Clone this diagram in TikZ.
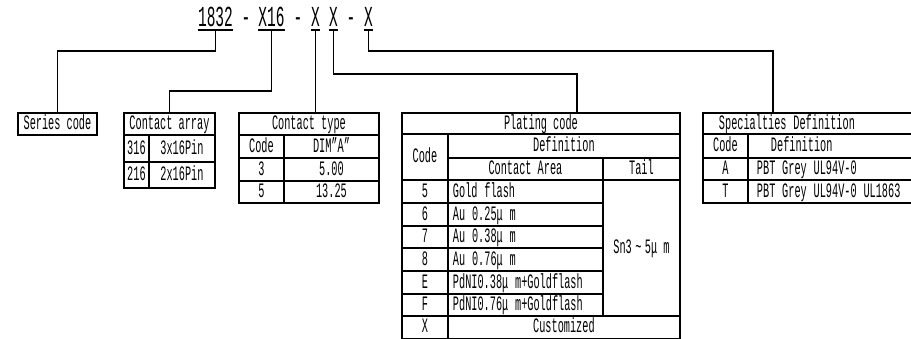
\documentclass[tikz,border=0pt]{standalone}
\usepackage{fontspec}
\setmainfont{Liberation Mono}[FakeStretch=0.5]
\newfontfamily\ttlfont{Liberation Mono}[FakeStretch=0.5]
\usepackage{tikz}
\usetikzlibrary{calc}

\tikzset{
  cell/.style={draw, line width=1.9pt, anchor=north west, inner sep=0pt, text height=11.5pt, text depth=0pt, font=\fontsize{20.5}{20.5}\selectfont},
  lcell/.style={cell, align=left},
  ttl/.style={anchor=base, inner xsep=0pt, inner ysep=3pt, text depth=0pt, font=\ttlfont\fontsize{29}{29}\selectfont},
  wire/.style={line width=1.9pt}
}

\begin{document}
\begin{tikzpicture}[x=1pt,y=-1pt]
    \useasboundingbox (0,0) rectangle (911,339);

    % part number
    \node[ttl] (t1832) at (215.5,27) {1832};
    \node[ttl] (d1) at (246,27) {-};
    \node[ttl] (tx16) at (271.5,27) {X16};
    \node[ttl] (d2) at (298,27) {-};
    \node[ttl] (xa) at (315.5,27) {X};
    \node[ttl] (xb) at (333.5,27) {X};
    \node[ttl] (d3) at (351,27) {-};
    \node[ttl] (xc) at (368.5,27) {X};
    \foreach \n in {t1832,tx16,xa,xb,xc}
        \draw[wire] (\n.south west)--(\n.south east);

    % series
    \node[cell, minimum width=79pt, minimum height=22pt] (series) at (17,112) {Series code};

    % contact array
    \node[cell, minimum width=91pt, minimum height=22pt] (carray) at (123,112) {Contact array};
    \node[cell, minimum width=25pt, minimum height=27pt] (ca1) at (123,134) {316};
    \node[cell, minimum width=66pt, minimum height=27pt] (ca2) at (148,134) {3x16Pin};
    \node[cell, minimum width=25pt, minimum height=26pt] (ca3) at (123,161) {216};
    \node[cell, minimum width=66pt, minimum height=26pt] (ca4) at (148,161) {2x16Pin};

    % contact type
    \node[cell, minimum width=140pt, minimum height=22pt] (ctype) at (238,112) {Contact type};
    \node[cell, minimum width=45pt, minimum height=23pt] (ct1) at (238,134) {Code};
    \node[cell, minimum width=95pt, minimum height=23pt] (ct2) at (283,134) {DIM\symbol{34}A\symbol{34}};
    \node[cell, minimum width=45pt, minimum height=23pt] (ct3) at (238,157) {3};
    \node[cell, minimum width=95pt, minimum height=23pt] (ct4) at (283,157) {5.00};
    \node[cell, minimum width=45pt, minimum height=22pt] (ct5) at (238,180) {5};
    \node[cell, minimum width=95pt, minimum height=22pt] (ct6) at (283,180) {13.25};

    % plating
    \node[cell, minimum width=278pt, minimum height=21pt] (plate) at (401,112) {Plating code};
    \node[cell, minimum width=46pt, minimum height=46pt] (pcode) at (401,133) {Code};
    \node[cell, minimum width=232pt, minimum height=24pt] (pdef) at (447,133) {Definition};
    \node[cell, minimum width=155pt, minimum height=22pt] (parea) at (447,157) {Contact Area};
    \node[cell, minimum width=77pt, minimum height=22pt] (ptail) at (602,157) {Tail};
    \node[cell, minimum width=46pt, minimum height=23pt] (p5) at (401,179) {5};
    \node[lcell, text width=145pt, inner xsep=5pt, minimum height=23pt] (p5a) at (447,179) {Gold flash};
    \node[cell, minimum width=46pt, minimum height=23pt] (p6) at (401,202) {6};
    \node[lcell, text width=145pt, inner xsep=5pt, minimum height=23pt] (p6a) at (447,202) {Au 0.25μ m};
    \node[cell, minimum width=46pt, minimum height=22pt] (p7) at (401,225) {7};
    \node[lcell, text width=145pt, inner xsep=5pt, minimum height=22pt] (p7a) at (447,225) {Au 0.38μ m};
    \node[cell, minimum width=46pt, minimum height=23pt] (p8) at (401,247) {8};
    \node[lcell, text width=145pt, inner xsep=5pt, minimum height=23pt] (p8a) at (447,247) {Au 0.76μ m};
    \node[cell, minimum width=46pt, minimum height=23pt] (pE) at (401,270) {E};
    \node[lcell, text width=145pt, inner xsep=5pt, minimum height=23pt] (pEa) at (447,270) {PdNI0.38μ m+Goldflash};
    \node[cell, minimum width=46pt, minimum height=22pt] (pF) at (401,293) {F};
    \node[lcell, text width=145pt, inner xsep=5pt, minimum height=22pt] (pFa) at (447,293) {PdNI0.76μ m+Goldflash};
    \node[cell, minimum width=77pt, minimum height=136pt] (psn) at (602,179) {Sn3\,\~{}\,5μ m};
    \node[cell, minimum width=46pt, minimum height=22.5pt] (pX) at (401,315) {X};
    \node[cell, minimum width=232pt, minimum height=22.5pt] (pXa) at (447,315) {Customized};

    % specialties
    \node[lcell, text width=204pt, inner xsep=16pt, minimum height=21pt] (spec) at (702,112) {Specialties Definition};
    \node[cell, minimum width=45pt, minimum height=24pt] (sc) at (702,133) {Code};
    \node[lcell, text width=152pt, inner xsep=23pt, minimum height=24pt] (sd) at (747,133) {Definition};
    \node[cell, minimum width=45pt, minimum height=22pt] (sA) at (702,157) {A};
    \node[lcell, text width=175pt, inner xsep=9pt, minimum height=22pt] (sAa) at (747,157) {PBT Grey UL94V-0};
    \node[cell, minimum width=45pt, minimum height=23pt] (sT) at (702,179) {T};
    \node[lcell, text width=175pt, inner xsep=9pt, minimum height=23pt] (sTa) at (747,179) {PBT Grey UL94V-0 UL1863};

    % leaders
    \draw[wire] (t1832.south) -- ++(0,21) -| (series.north);
    \draw[wire] (tx16.south) -- ++(0,61) -| (carray.north);
    \draw[wire] (xa.south) -- (xa.south |- ctype.north);
    \draw[wire] (xb.south) -- ++(0,44) -| ([xshift=36pt]plate.north);
    \draw[wire] (xc.south) -- ++(0,21) -| ([xshift=-48pt]spec.north);
\end{tikzpicture}
\end{document}
